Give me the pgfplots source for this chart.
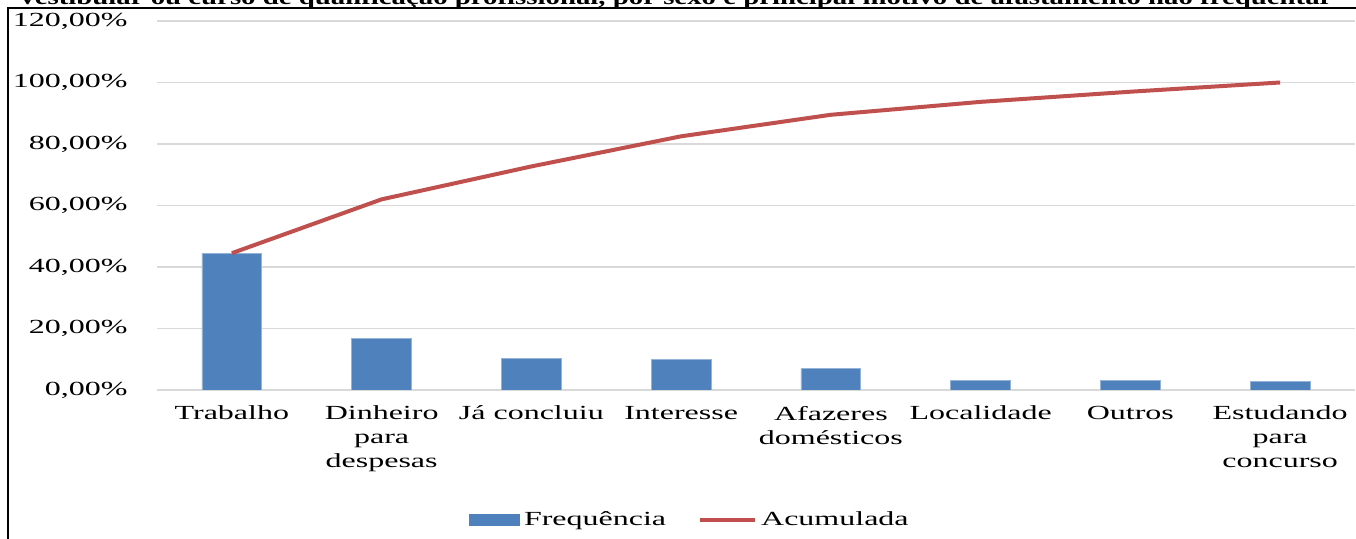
\documentclass[border=0pt]{standalone}
\usepackage{pgfplots}
\pgfplotsset{compat=1.18}
\usepackage{fontspec}
\setmainfont{Liberation Serif}[FakeStretch=1.6]
\definecolor{barblue}{HTML}{4F81BD}
\definecolor{linered}{HTML}{C0504D}
\definecolor{gridgray}{HTML}{D9D9D9}
\begin{document}
\begin{tikzpicture}
\path[use as bounding box] (0,0) rectangle (678pt,269.5pt);
\clip (0,0) rectangle (678pt,269.5pt);
\node[anchor=base west, inner sep=0pt] at (10pt,267pt) {\resizebox{656pt}{\height}{\fontsize{11}{13}\selectfont\bfseries vestibular ou curso de qualificação profissional, por sexo e principal motivo de afastamento não frequentar}};
\draw[line width=1pt] (4pt,-5pt) -- (4pt,265.5pt) -- (700pt,265.5pt);
\begin{axis}[
  at={(78.5pt,74.5pt)}, anchor=south west,
  scale only axis, width=599pt, height=184.5pt,
  xmin=-0.5, xmax=7.5, ymin=0, ymax=120,
  ytick={0,20,40,60,80,100,120},
  yticklabels={{0,00\%},{20,00\%},{40,00\%},{60,00\%},{80,00\%},{100,00\%},{120,00\%}},
  xtick={0,1,2,3,4,5,6,7},
  xticklabels={Trabalho,{Dinheiro\\para\\despesas},{Já concluiu},Interesse,{Afazeres\\domésticos},Localidade,Outros,{Estudando\\para\\concurso}},
  ymajorgrids, grid style={gridgray, line width=0.75pt},
  axis line style={draw=none},
  major tick length=0pt,
  tick label style={font=\fontsize{10}{12}\selectfont},
  xticklabel style={align=center, anchor=north, inner sep=0pt, yshift=-7.8pt},
  yticklabel style={anchor=east, inner sep=0pt, xshift=-14.5pt},
  legend style={at={(0.4457,-0.352)}, anchor=center, draw=none, fill=none,
    legend columns=2, font=\fontsize{10}{12}\selectfont,
    /tikz/every even column/.append style={column sep=14pt}},
]
\addplot[ybar, bar width=0.4, fill=barblue, draw=barblue!60!white, line width=0.4pt,
  legend image code/.code={\fill[barblue] (0pt,-2.75pt) rectangle (25pt,2.75pt);}]
  coordinates {(0,44.5)(1,16.8)(2,10.4)(3,9.8)(4,6.9)(5,3.2)(6,3.0)(7,2.7)};
\addplot[linered, line width=2pt, line join=round,
  legend image code/.code={\draw[linered, line width=2pt] (0pt,0pt) -- (27.5pt,0pt);}]
  coordinates {(0,44.5)(1,62.0)(2,72.7)(3,82.5)(4,89.5)(5,93.7)(6,97.0)(7,100)};
\legend{Frequência,Acumulada}
\end{axis}
\end{tikzpicture}
\end{document}
